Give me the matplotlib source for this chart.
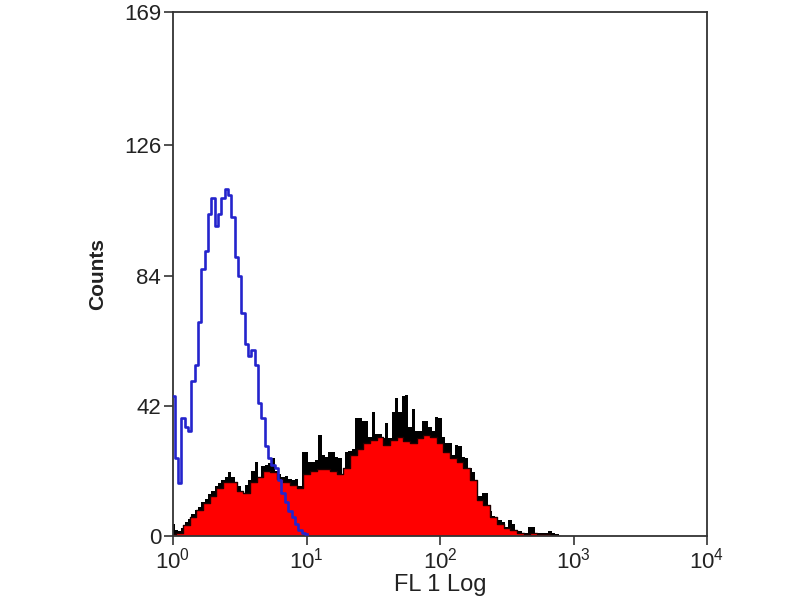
import numpy as np
import matplotlib
matplotlib.use("Agg")
import matplotlib.pyplot as plt

plt.rcParams['font.family'] = ['Liberation Sans', 'DejaVu Sans']

# channel grid: log10 steps of 0.025 decades (raw), 0.05 decades (smoothed fill)
raw_step = 0.025
fill_step = 0.05

# black (raw) histogram of the stained sample
black_counts = [4, 2, 1.5, 2.5, 4.5, 5.5, 7, 8.5, 9.5, 11, 12, 13.5, 14.5, 16, 17, 18, 19, 20.5,
                19, 17.5, 16, 14, 16.5, 18, 21, 24, 17, 22.5, 23, 23.5, 25, 21, 20, 19,
                19.5, 18.5, 18, 18.5, 16, 27, 27, 24, 24, 24.5, 32.5, 26, 25.5, 27, 27,
                25.5, 25, 20, 27, 27.5, 28, 38, 38, 37, 37, 32, 40, 33, 33, 31.5, 36.5,
                31.5, 40, 44.5, 40, 45, 45.5, 35, 41, 34, 34, 37, 37, 35, 34, 38.4, 38,
                32, 30, 30, 26, 29.5, 29, 25.5, 25, 22, 20.5, 12.5, 13, 14, 14, 8, 6.5,
                5.5, 5, 4.5, 3, 5, 4, 1.5, 1.5, 1, 1, 3, 3, 1, 1, 1, 1, 1.5, 1, 0.5, 0]

# smoothed red filled histogram
red_counts = [0.5, 1, 3.5, 6, 8.5, 10.5, 13, 15.5, 17.5, 17.5, 14.5, 14, 17.5, 19, 21,
              20.5, 18.5, 17.5, 16.5, 15.5, 20, 21, 21.5, 21.5, 21, 20, 22, 26, 28,
              30, 31, 32, 29.5, 31, 32, 30.5, 30, 31.5, 32.5, 32, 30, 27, 25, 24, 22,
              18, 11.5, 10, 6, 4, 2.5, 2, 1, 0.5, 1, 0.5, 0.5, 0.3, 0]

# blue isotype control histogram
blue_counts = [45, 25, 17, 38, 35, 34, 50, 55, 69, 86, 92, 104, 109, 100, 104, 109, 112,
               110, 103, 90, 84, 72, 62, 58, 60, 55, 43, 38, 29, 25, 23, 22, 18, 14, 11,
               8, 6, 4, 2, 1, 0.5]

y_ticks = [0, 42, 84, 126, 169]
x_ticks = [1, 10, 100, 1000, 10000]

xb = 10 ** (np.arange(len(black_counts)) * raw_step)
xr = 10 ** (np.arange(len(red_counts)) * fill_step)
xl = 10 ** (np.arange(len(blue_counts)) * raw_step)

fig = plt.figure(figsize=(8, 6), dpi=100)
ax = fig.add_axes([0.21625, 0.10667, 0.6675, 0.87333])

ax.fill_between(xb, 0, black_counts, step='mid', color='black', lw=0, zorder=1)
ax.fill_between(xr, 0, red_counts, step='mid', color='#ff0000', lw=0, zorder=2)
ax.plot(xr, red_counts, drawstyle='steps-mid', color='#200000', lw=1.0, zorder=2.5)
ax.plot(xl, blue_counts, drawstyle='steps-mid', color='#2424cc', lw=1.9, zorder=3)

ax.set_xscale('log')
ax.set_xlim(1, 1e4)
ax.set_ylim(0, 169)
ax.set_xticks(x_ticks)
ax.xaxis.set_minor_locator(matplotlib.ticker.NullLocator())
ax.set_yticks(y_ticks)
ax.set_yticklabels([str(v) for v in y_ticks])

for s in ax.spines.values():
    s.set_color('#333333')
    s.set_linewidth(1.3)

ax.tick_params(direction='out', length=6.5, width=1.2, colors='#333333',
               labelsize=16, labelcolor='#222222')
ax.tick_params(axis='x', pad=2)
ax.tick_params(axis='y', pad=2)

ax.set_xlabel('FL 1 Log', fontsize=17, color='#222222', labelpad=0)
ax.set_ylabel('Counts', fontsize=15, fontweight='bold', color='#222222', labelpad=12)

fig.savefig('out.png', dpi=100)
